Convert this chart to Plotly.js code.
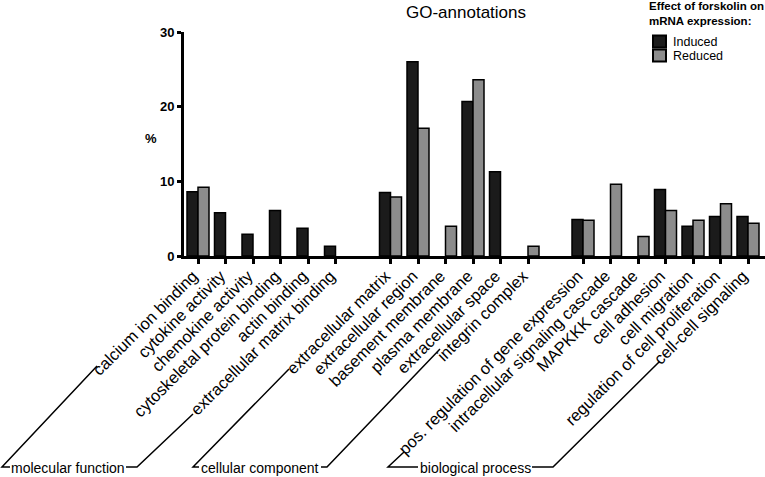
<!DOCTYPE html>
<html>
<head>
<meta charset="utf-8">
<script src="https://cdn.plot.ly/plotly-3.0.1.min.js"></script>
<style>html,body{margin:0;padding:0;background:#fff;}#chart{width:765px;height:477px;}</style>
</head>
<body>
<div id="chart"></div>
<script>
// ---- data ----
const groupNames = ['molecular function', 'cellular component', 'biological process'];
const categories = [
  'calcium ion binding', 'cytokine activity', 'chemokine activity', 'cytoskeletal protein binding',
  'actin binding', 'extracellular matrix binding',
  'extracellular matrix', 'extracellular region', 'basement membrane', 'plasma membrane',
  'extracellular space', 'integrin complex',
  'pos. regulation of gene expression', 'intracellular signaling cascade', 'MAPKKK cascade',
  'cell adhesion', 'cell migration', 'regulation of cell proliferation', 'cell-cell signaling'
];
const categoryGroup = [0,0,0,0,0,0, 1,1,1,1,1,1, 2,2,2,2,2,2,2];
const induced = [8.6, 5.8, 2.9, 6.1, 3.7, 1.3,  8.5, 26.0, 0, 20.7, 11.3, 0,  4.9, 0, 0, 8.9, 4.0, 5.3, 5.3];
const reduced = [9.2, 0, 0, 0, 0, 0,  7.9, 17.1, 4.0, 23.6, 0, 1.3,  4.8, 9.6, 2.6, 6.1, 4.8, 7.0, 4.4];
const seriesNames = ['Induced', 'Reduced'];
const yTicks = [0, 10, 20, 30];
const legendTitle = 'Effect of forskolin on<br>mRNA expression:';

// slot positions: one empty slot between groups
const xpos = categories.map((c, i) => i + categoryGroup[i]);

const FONT = 'Liberation Sans, Arial, Helvetica, sans-serif';
const colors = ['#1b1b1b', '#8c8c8c'];

const traces = [induced, reduced].map((vals, k) => ({
  type: 'bar', name: seriesNames[k], x: xpos, y: vals, showlegend: false,
  marker: {color: colors[k], line: {color: '#000', width: vals.map(v => v ? 1.5 : 0)}}
}));

// pixel -> paper helpers (plot area: left 184, width 581, bottom 256, height 224)
const L = 184, W = 765 - L, B = 256, H = 224;
const px = x => (x - L) / W;
const py = y => (B - y) / H;
function path(pts) {
  return pts.map((p, i) => (i ? 'L' : 'M') + px(p[0]).toFixed(4) + ',' + py(p[1]).toFixed(4)).join(' ');
}
const lineStyle = {color: '#000', width: 1.5};
const shapes = [
  {type: 'path', xref: 'paper', yref: 'paper', line: lineStyle, path: path([[97,366],[2,467],[10,467]])},
  {type: 'path', xref: 'paper', yref: 'paper', line: lineStyle, path: path([[126,467],[137,467],[193,414]])},
  {type: 'path', xref: 'paper', yref: 'paper', line: lineStyle, path: path([[289,369],[193,467],[199,467]])},
  {type: 'path', xref: 'paper', yref: 'paper', line: lineStyle, path: path([[321,467],[327,467],[440,349]])},
  {type: 'path', xref: 'paper', yref: 'paper', line: lineStyle, path: path([[404,452],[388,467],[418,467]])},
  {type: 'path', xref: 'paper', yref: 'paper', line: lineStyle, path: path([[532,467],[553,467],[659,362]])}
];
const groupLabelX = [68, 260, 475];
const annotations = groupNames.map((g, i) => ({
  text: g, xref: 'paper', yref: 'paper', x: px(groupLabelX[i]), y: py(468),
  xanchor: 'center', yanchor: 'middle', showarrow: false,
  font: {family: FONT, size: 14, color: '#000'}
}));
annotations.push({
  text: '<b>%</b>', xref: 'paper', yref: 'paper', x: px(151), y: py(138),
  xanchor: 'center', yanchor: 'middle', showarrow: false,
  font: {family: FONT, size: 13, color: '#000'}
});
// legend (drawn manually for compact spacing)
annotations.push({
  text: '<b>' + legendTitle + '</b>', xref: 'paper', yref: 'paper', x: px(765), y: py(-1),
  xanchor: 'right', yanchor: 'top', align: 'left', showarrow: false, borderpad: 0,
  font: {family: FONT, size: 11.5, color: '#000'}
});
seriesNames.forEach((n, k) => {
  const yc = 41.5 + 14 * k;
  shapes.push({type: 'rect', xref: 'paper', yref: 'paper',
    x0: px(653), x1: px(666), y0: py(yc - 6), y1: py(yc + 6),
    fillcolor: colors[k], line: {color: '#000', width: 2}});
  annotations.push({text: n, xref: 'paper', yref: 'paper', x: px(671), y: py(yc),
    xanchor: 'left', yanchor: 'middle', showarrow: false,
    font: {family: FONT, size: 12.5, color: '#000'}});
});

const layout = {
  width: 765, height: 477,
  margin: {l: L, r: 0, t: 32, b: 221, pad: 0},
  paper_bgcolor: '#fff', plot_bgcolor: '#fff',
  font: {family: FONT, color: '#000'},
  title: {text: 'GO-annotations', x: 466 / 765, xref: 'container', xanchor: 'center',
          y: 1 - 12 / 477, yref: 'container', yanchor: 'middle',
          font: {family: FONT, size: 17, color: '#000'}},
  barmode: 'group', bargap: 0.2, bargroupgap: 0,
  showlegend: false,
  xaxis: {range: [-(198 - L) / 27.5, -(198 - L) / 27.5 + W / 27.5], tickvals: xpos, ticktext: categories, tickangle: -45,
          ticks: 'outside', ticklen: 5, tickwidth: 3, tickcolor: '#000',
          ticklabelshift: -5, ticklabelstandoff: -4,
          showline: true, linewidth: 3, linecolor: '#000', showgrid: false, zeroline: false,
          tickfont: {family: FONT, size: 16.5, color: '#000'}, automargin: false, fixedrange: true},
  yaxis: {range: [0, 30], tickvals: yTicks, ticktext: yTicks.map(v => '<b>' + v + '</b>'),
          ticks: 'outside', ticklen: 4, tickwidth: 3, tickcolor: '#000',
          showline: true, linewidth: 3, linecolor: '#000', showgrid: false, zeroline: false,
          tickfont: {family: FONT, size: 13, color: '#000'}, automargin: false, fixedrange: true},
  shapes: shapes,
  annotations: annotations
};

Plotly.newPlot('chart', traces, layout, {staticPlot: true, displayModeBar: false});
</script>
</body>
</html>
